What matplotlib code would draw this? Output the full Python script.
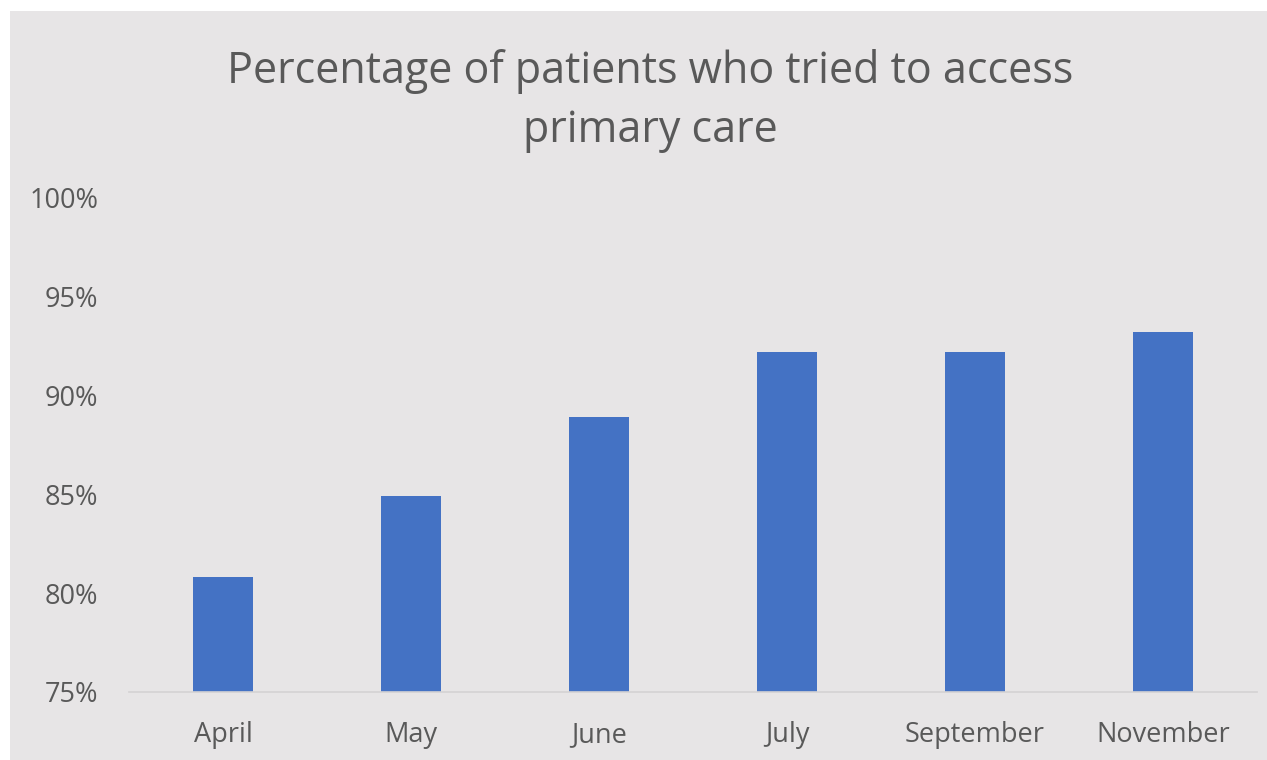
import matplotlib.pyplot as plt
from matplotlib.patches import Rectangle
from matplotlib.ticker import FuncFormatter

# data
months = ["April", "May", "June", "July", "September", "November"]
pct = [80.8, 84.9, 88.9, 92.2, 92.2, 93.2]
yticks = [75, 80, 85, 90, 95, 100]

bg = "#e7e5e6"
text_col = "#595959"
bar_col = "#4472c4"

plt.rcParams["font.family"] = ["Open Sans", "DejaVu Sans"]

fig = plt.figure(figsize=(12.67, 7.6), dpi=100)
fig.patch.set_facecolor("white")
# gray chart area (white margin top and left, like the screenshot)
fig.patches.append(Rectangle((10 / 1267, 0), 1, 1 - 11 / 760,
                             transform=fig.transFigure, facecolor=bg,
                             edgecolor="none", zorder=-1))

ax = fig.add_axes([129 / 1267, 1 - 692 / 760, (1257 - 129) / 1267, (692 - 198) / 760])
ax.set_facecolor(bg)

x = range(len(months))
ax.bar(x, pct, width=0.32, color=bar_col, zorder=2)

ax.set_xlim(-0.5, len(months) - 0.5)
ax.set_ylim(75, 100)
ax.set_yticks(yticks)
ax.yaxis.set_major_formatter(FuncFormatter(lambda v, p: f"{v:.0f}%"))
ax.set_xticks(list(x))
ax.set_xticklabels(months)

for s in ["top", "right", "left"]:
    ax.spines[s].set_visible(False)
ax.spines["bottom"].set_color("#d4d2d3")
ax.spines["bottom"].set_linewidth(1.2)

ax.tick_params(axis="both", length=0, labelsize=19.5, labelcolor=text_col)
ax.tick_params(axis="y", pad=22)
ax.tick_params(axis="x", pad=21)

fig.text(650 / 1267, 1 - 101 / 760,
         "Percentage of patients who tried to access\nprimary care",
         ha="center", va="center", fontsize=31, color=text_col,
         linespacing=1.45)

fig.savefig("out.png", dpi=100, facecolor=fig.get_facecolor())
